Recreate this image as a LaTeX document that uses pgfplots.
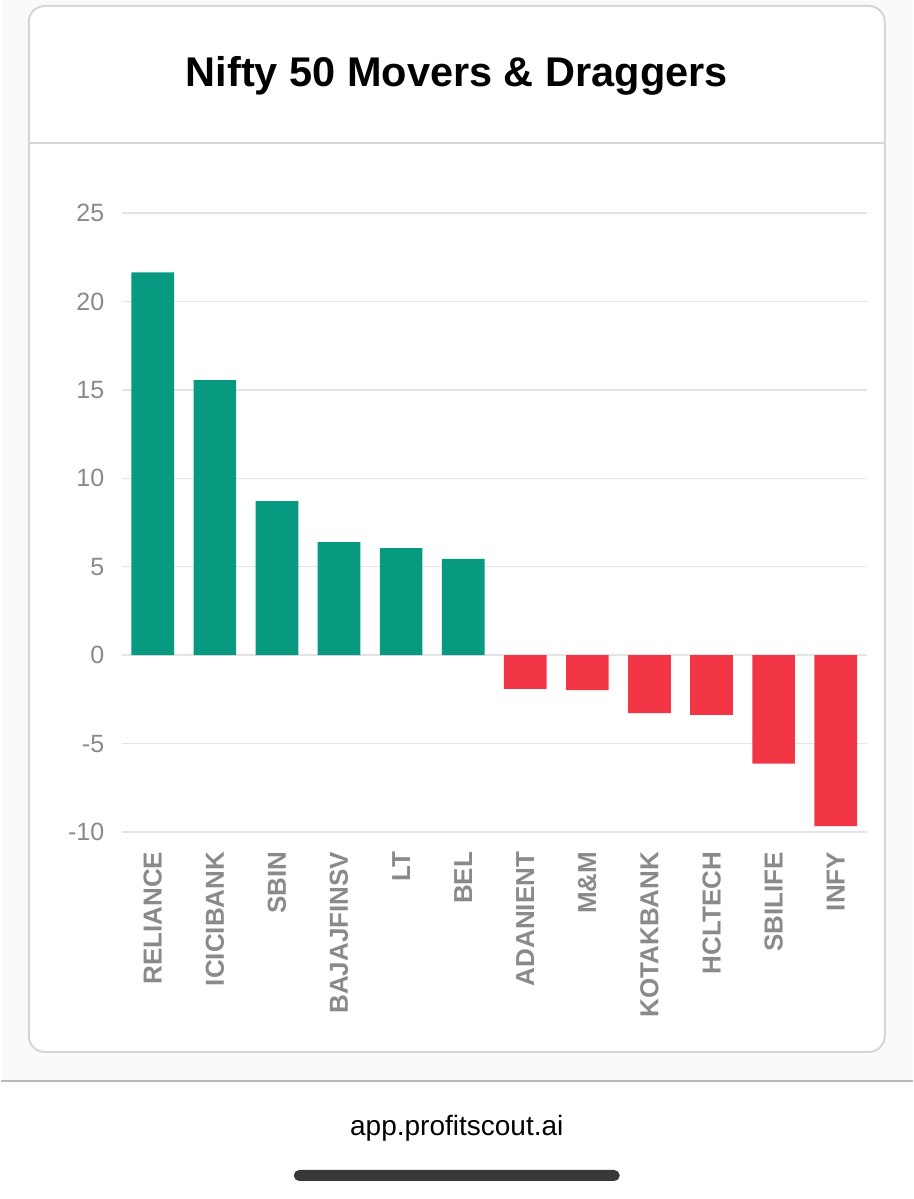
\documentclass[border=0pt]{standalone}
\usepackage{fontspec}
\setmainfont{Liberation Sans}
\usepackage{pgfplots}
\pgfplotsset{compat=1.18}
\definecolor{up}{HTML}{089981}
\definecolor{down}{HTML}{F23645}
\definecolor{ticktxt}{HTML}{8A8A8A}
\definecolor{gridc}{HTML}{E4E4E7}
\definecolor{cardc}{HTML}{D6D6DA}
\definecolor{bg}{HTML}{FAFAFA}
\begin{document}
\begin{tikzpicture}[x=1pt,y=1pt]
% page background, card and footer
\fill[bg] (0,118) rectangle (912,1199);
\fill[white] (0,0) rectangle (912,118);
\draw[line width=1.5pt, black!28] (0,118) -- (912,118);
\filldraw[fill=white, draw=cardc, line width=2pt, rounded corners=16pt] (28,147) rectangle (884,1193);
\draw[cardc, line width=1.5pt] (29,1056) -- (883,1056);
\node[font=\fontsize{41.5}{48}\selectfont\bfseries, anchor=base] at (456,1112) {Nifty 50 Movers \& Draggers};
\node[font=\fontsize{28}{32}\selectfont, anchor=base] at (456,63) {app.profitscout.ai};
\fill[black!78, rounded corners=5.5pt] (293,18) rectangle (619,29);

\begin{axis}[
    at={(121pt,367pt)}, anchor=south west,
    width=745pt, height=619pt, scale only axis,
    xmin=-0.5, xmax=11.5,
    ymin=-10, ymax=25,
    axis line style={draw=none},
    tick style={draw=none},
    ymajorgrids=true,
    grid style={gridc, line width=1.5pt},
    ytick={-10,-5,0,5,10,15,20,25},
    yticklabels={-10,-5,0,5,10,15,20,25},
    yticklabel shift=14pt,
    yticklabel style={font=\fontsize{25}{30}\selectfont, text=ticktxt},
    xtick={0,...,11},
    xticklabels={RELIANCE,ICICIBANK,SBIN,BAJAJFINSV,LT,BEL,ADANIENT,M\&M,KOTAKBANK,HCLTECH,SBILIFE,INFY},
    xticklabel shift=12pt,
    xticklabel style={rotate=90, anchor=east, font=\fontsize{26}{30}\selectfont\bfseries, text=ticktxt},
    ybar, bar width=42.6pt,
]
\addplot[fill=up, draw=none, bar shift=0pt]
    coordinates {(0,21.64)(1,15.55)(2,8.71)(3,6.39)(4,6.05)(5,5.45)};
\addplot[fill=down, draw=none, bar shift=0pt]
    coordinates {(6,-1.91)(7,-1.98)(8,-3.28)(9,-3.38)(10,-6.13)(11,-9.67)};
\end{axis}
\end{tikzpicture}
\end{document}
